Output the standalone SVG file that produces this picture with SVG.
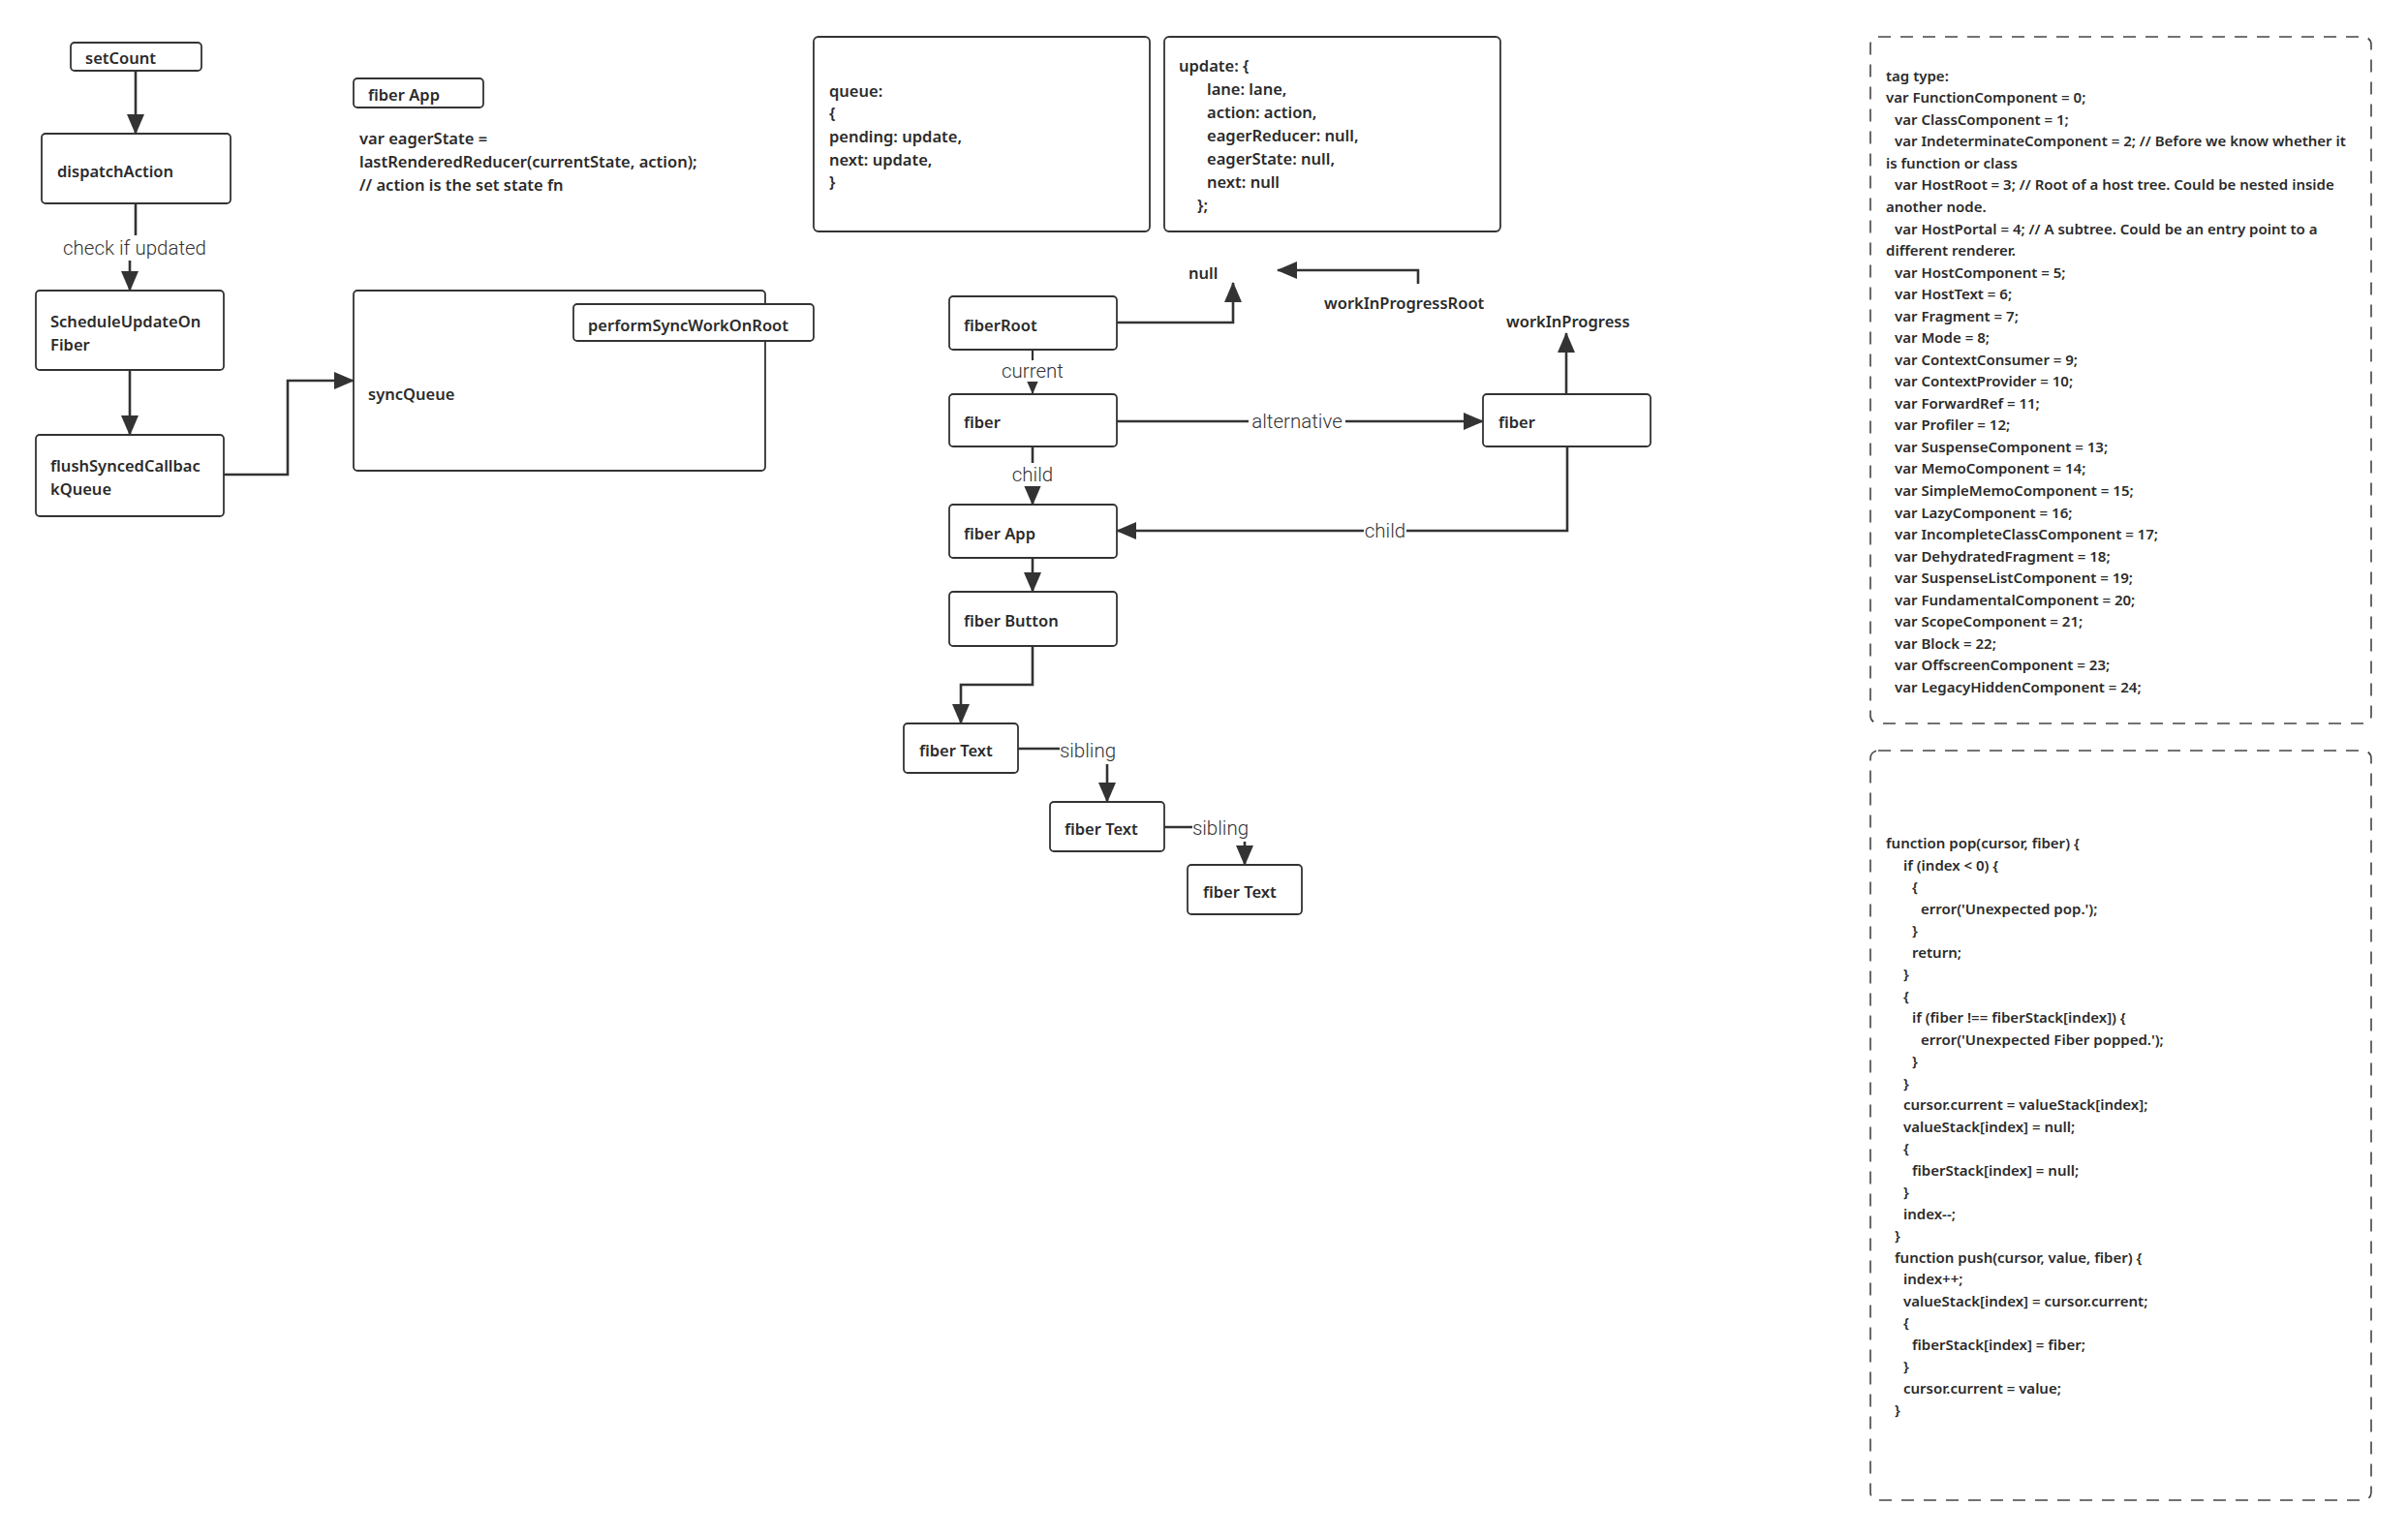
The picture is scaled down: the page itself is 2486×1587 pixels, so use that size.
<svg xmlns="http://www.w3.org/2000/svg" width="2486" height="1587" viewBox="0 0 2486 1587">
<style>
.n{fill:#fff;stroke:#333;stroke-width:1.8}
.d{fill:none;stroke:#444;stroke-width:1.6;stroke-dasharray:13 10}
.t{font-family:"Noto Sans","Liberation Sans",sans-serif;font-size:16.5px;font-weight:600;fill:#2b2b2b;dominant-baseline:central}
.c{font-family:"Noto Sans","Liberation Sans",sans-serif;font-size:15px;font-weight:600;fill:#2b2b2b;dominant-baseline:central}
.e{fill:none;stroke:#333;stroke-width:2.6}
.l{font-family:Roboto,"Liberation Sans",sans-serif;font-size:20.5px;font-weight:300;fill:#333;text-anchor:middle;dominant-baseline:central}
.lb{fill:#fff}
</style>
<defs>
<marker id="a" markerUnits="userSpaceOnUse" markerWidth="21" markerHeight="18" refX="20" refY="9" orient="auto"><path d="M0,0 L21,9 L0,18 z" fill="#333"/></marker>
<marker id="s" markerUnits="userSpaceOnUse" markerWidth="15" markerHeight="13" refX="15" refY="6.5" orient="auto"><path d="M0,0 L15,6.5 L0,13 z" fill="#333"/></marker>
</defs>
<rect width="2486" height="1587" fill="#fff"/>

<g id="connectors">
<path class="e" d="M140,73 V138" marker-end="url(#a)"/>
<path class="e" d="M140,210 V256 H134 V300" marker-end="url(#a)"/>
<path class="e" d="M134,382 V449" marker-end="url(#a)"/>
<path class="e" d="M231,490 H297 V393 H365" marker-end="url(#a)"/>
<path class="e" d="M1153,333 H1273 V292" marker-end="url(#a)"/>
<path class="e" d="M1464,293 V279 H1319" marker-end="url(#a)"/>
<path class="e" style="stroke-width:2.2" d="M1066,361 V407" marker-end="url(#s)"/>
<path class="e" d="M1153,435 H1531" marker-end="url(#a)"/>
<path class="e" d="M1617,407 V344" marker-end="url(#a)"/>
<path class="e" d="M1066,461 V521" marker-end="url(#a)"/>
<path class="e" d="M1618,461 V548 H1153" marker-end="url(#a)"/>
<path class="e" d="M1066,576 V611" marker-end="url(#a)"/>
<path class="e" d="M1066,667 V707 H992 V747" marker-end="url(#a)"/>
<path class="e" d="M1051,773 H1143 V828" marker-end="url(#a)"/>
<path class="e" d="M1202,854 H1285 V893" marker-end="url(#a)"/>
<rect class="lb" x="60" y="243" width="158" height="26"/>
<text class="l" x="139" y="256">check if updated</text>
<rect class="lb" x="1031" y="372" width="70" height="22"/>
<text class="l" x="1066" y="383">current</text>
<rect class="lb" x="1289" y="424" width="100" height="24"/>
<text class="l" x="1339" y="435">alternative</text>
<rect class="lb" x="1044" y="478" width="44" height="24"/>
<text class="l" x="1066" y="490">child</text>
<rect class="lb" x="1408" y="536" width="44" height="24"/>
<text class="l" x="1430" y="548">child</text>
<rect class="lb" x="1094" y="763" width="60" height="26"/>
<text class="l" x="1123" y="775">sibling</text>
<rect class="lb" x="1231" y="843" width="60" height="26"/>
<text class="l" x="1260" y="855">sibling</text>
</g>

<g id="setCount"><rect class="n" x="73" y="44" width="135" height="29" rx="4"/><text class="t" x="88" y="59">setCount</text></g>
<g id="dispatchAction"><rect class="n" x="43" y="138" width="195" height="72" rx="4"/><text class="t" x="59" y="176">dispatchAction</text></g>
<g id="scheduleUpdateOnFiber"><rect class="n" x="37" y="300" width="194" height="82" rx="4"/><text class="t" x="52" y="331">ScheduleUpdateOn</text><text class="t" x="52" y="355">Fiber</text></g>
<g id="flushSyncedCallbackQueue"><rect class="n" x="37" y="449" width="194" height="84" rx="4"/><text class="t" x="52" y="480">flushSyncedCallbac</text><text class="t" x="52" y="504">kQueue</text></g>
<g id="fiberAppLabel"><rect class="n" x="365" y="81" width="134" height="30" rx="4"/><text class="t" x="380" y="97">fiber App</text></g>
<g id="eagerStateNote"><text class="t" x="371" y="142">var eagerState =</text><text class="t" x="371" y="166">lastRenderedReducer(currentState, action);</text><text class="t" x="371" y="190">// action is the set state fn</text></g>
<g id="syncQueue"><rect class="n" x="365" y="300" width="425" height="186" rx="4"/><text class="t" x="380" y="406">syncQueue</text></g>
<g id="performSyncWorkOnRoot"><rect class="n" x="592" y="314" width="248" height="38" rx="4"/><text class="t" x="607" y="335">performSyncWorkOnRoot</text></g>

<g id="queueBox"><rect class="n" x="840" y="38" width="347" height="201" rx="5"/>
<text class="t" x="856" y="93">queue:</text><text class="t" x="856" y="116">{</text><text class="t" x="856" y="140">pending: update,</text><text class="t" x="856" y="164">next: update,</text><text class="t" x="856" y="187">}</text></g>
<g id="updateBox"><rect class="n" x="1202" y="38" width="347" height="201" rx="5"/>
<text class="t" x="1217" y="67">update: {</text><text class="t" x="1246" y="91">lane: lane,</text><text class="t" x="1246" y="115">action: action,</text><text class="t" x="1246" y="139">eagerReducer: null,</text><text class="t" x="1246" y="163">eagerState: null,</text><text class="t" x="1246" y="187">next: null</text><text class="t" x="1236" y="211">};</text></g>

<g id="null"><text class="t" x="1227" y="281">null</text></g>
<g id="workInProgressRoot"><text class="t" x="1367" y="312">workInProgressRoot</text></g>
<g id="workInProgress"><text class="t" x="1555" y="331">workInProgress</text></g>
<g id="fiberRoot"><rect class="n" x="980" y="306" width="173" height="55" rx="4"/><text class="t" x="995" y="335">fiberRoot</text></g>
<g id="fiberCurrent"><rect class="n" x="980" y="407" width="173" height="54" rx="4"/><text class="t" x="995" y="435">fiber</text></g>
<g id="fiberAlternate"><rect class="n" x="1531" y="407" width="173" height="54" rx="4"/><text class="t" x="1547" y="435">fiber</text></g>
<g id="fiberApp"><rect class="n" x="980" y="521" width="173" height="55" rx="4"/><text class="t" x="995" y="550">fiber App</text></g>
<g id="fiberButton"><rect class="n" x="980" y="611" width="173" height="56" rx="4"/><text class="t" x="995" y="640">fiber Button</text></g>
<g id="fiberText1"><rect class="n" x="933" y="747" width="118" height="51" rx="4"/><text class="t" x="949" y="774">fiber Text</text></g>
<g id="fiberText2"><rect class="n" x="1084" y="828" width="118" height="51" rx="4"/><text class="t" x="1099" y="855">fiber Text</text></g>
<g id="fiberText3"><rect class="n" x="1226" y="893" width="118" height="51" rx="4"/><text class="t" x="1242" y="920">fiber Text</text></g>

<g id="tagTypes"><rect class="d" x="1931" y="38" width="517" height="709" rx="8"/>
<text class="c" x="1947" y="77.7">tag type:</text>
<text class="c" x="1947" y="100.2">var FunctionComponent = 0;</text>
<text class="c" x="1956" y="122.8">var ClassComponent = 1;</text>
<text class="c" x="1956" y="145.3">var IndeterminateComponent = 2; // Before we know whether it</text>
<text class="c" x="1947" y="167.9">is function or class</text>
<text class="c" x="1956" y="190.4">var HostRoot = 3; // Root of a host tree. Could be nested inside</text>
<text class="c" x="1947" y="212.9">another node.</text>
<text class="c" x="1956" y="235.5">var HostPortal = 4; // A subtree. Could be an entry point to a</text>
<text class="c" x="1947" y="258.0">different renderer.</text>
<text class="c" x="1956" y="280.6">var HostComponent = 5;</text>
<text class="c" x="1956" y="303.1">var HostText = 6;</text>
<text class="c" x="1956" y="325.6">var Fragment = 7;</text>
<text class="c" x="1956" y="348.2">var Mode = 8;</text>
<text class="c" x="1956" y="370.7">var ContextConsumer = 9;</text>
<text class="c" x="1956" y="393.3">var ContextProvider = 10;</text>
<text class="c" x="1956" y="415.8">var ForwardRef = 11;</text>
<text class="c" x="1956" y="438.3">var Profiler = 12;</text>
<text class="c" x="1956" y="460.9">var SuspenseComponent = 13;</text>
<text class="c" x="1956" y="483.4">var MemoComponent = 14;</text>
<text class="c" x="1956" y="506.0">var SimpleMemoComponent = 15;</text>
<text class="c" x="1956" y="528.5">var LazyComponent = 16;</text>
<text class="c" x="1956" y="551.0">var IncompleteClassComponent = 17;</text>
<text class="c" x="1956" y="573.6">var DehydratedFragment = 18;</text>
<text class="c" x="1956" y="596.1">var SuspenseListComponent = 19;</text>
<text class="c" x="1956" y="618.7">var FundamentalComponent = 20;</text>
<text class="c" x="1956" y="641.2">var ScopeComponent = 21;</text>
<text class="c" x="1956" y="663.7">var Block = 22;</text>
<text class="c" x="1956" y="686.3">var OffscreenComponent = 23;</text>
<text class="c" x="1956" y="708.8">var LegacyHiddenComponent = 24;</text>
</g>

<g id="popPush"><rect class="d" x="1931" y="775" width="517" height="774" rx="8"/>
<text class="c" x="1947" y="870.4">function pop(cursor, fiber) {</text>
<text class="c" x="1965" y="892.9">if (index &lt; 0) {</text>
<text class="c" x="1974" y="915.4">{</text>
<text class="c" x="1983" y="937.9">error('Unexpected pop.');</text>
<text class="c" x="1974" y="960.4">}</text>
<text class="c" x="1974" y="982.9">return;</text>
<text class="c" x="1965" y="1005.4">}</text>
<text class="c" x="1965" y="1027.9">{</text>
<text class="c" x="1974" y="1050.4">if (fiber !== fiberStack[index]) {</text>
<text class="c" x="1983" y="1072.9">error('Unexpected Fiber popped.');</text>
<text class="c" x="1974" y="1095.4">}</text>
<text class="c" x="1965" y="1117.9">}</text>
<text class="c" x="1965" y="1140.4">cursor.current = valueStack[index];</text>
<text class="c" x="1965" y="1162.9">valueStack[index] = null;</text>
<text class="c" x="1965" y="1185.4">{</text>
<text class="c" x="1974" y="1207.9">fiberStack[index] = null;</text>
<text class="c" x="1965" y="1230.4">}</text>
<text class="c" x="1965" y="1252.9">index--;</text>
<text class="c" x="1956" y="1275.4">}</text>
<text class="c" x="1956" y="1297.9">function push(cursor, value, fiber) {</text>
<text class="c" x="1965" y="1320.4">index++;</text>
<text class="c" x="1965" y="1342.9">valueStack[index] = cursor.current;</text>
<text class="c" x="1965" y="1365.4">{</text>
<text class="c" x="1974" y="1387.9">fiberStack[index] = fiber;</text>
<text class="c" x="1965" y="1410.4">}</text>
<text class="c" x="1965" y="1432.9">cursor.current = value;</text>
<text class="c" x="1956" y="1455.4">}</text>
</g>
</svg>
